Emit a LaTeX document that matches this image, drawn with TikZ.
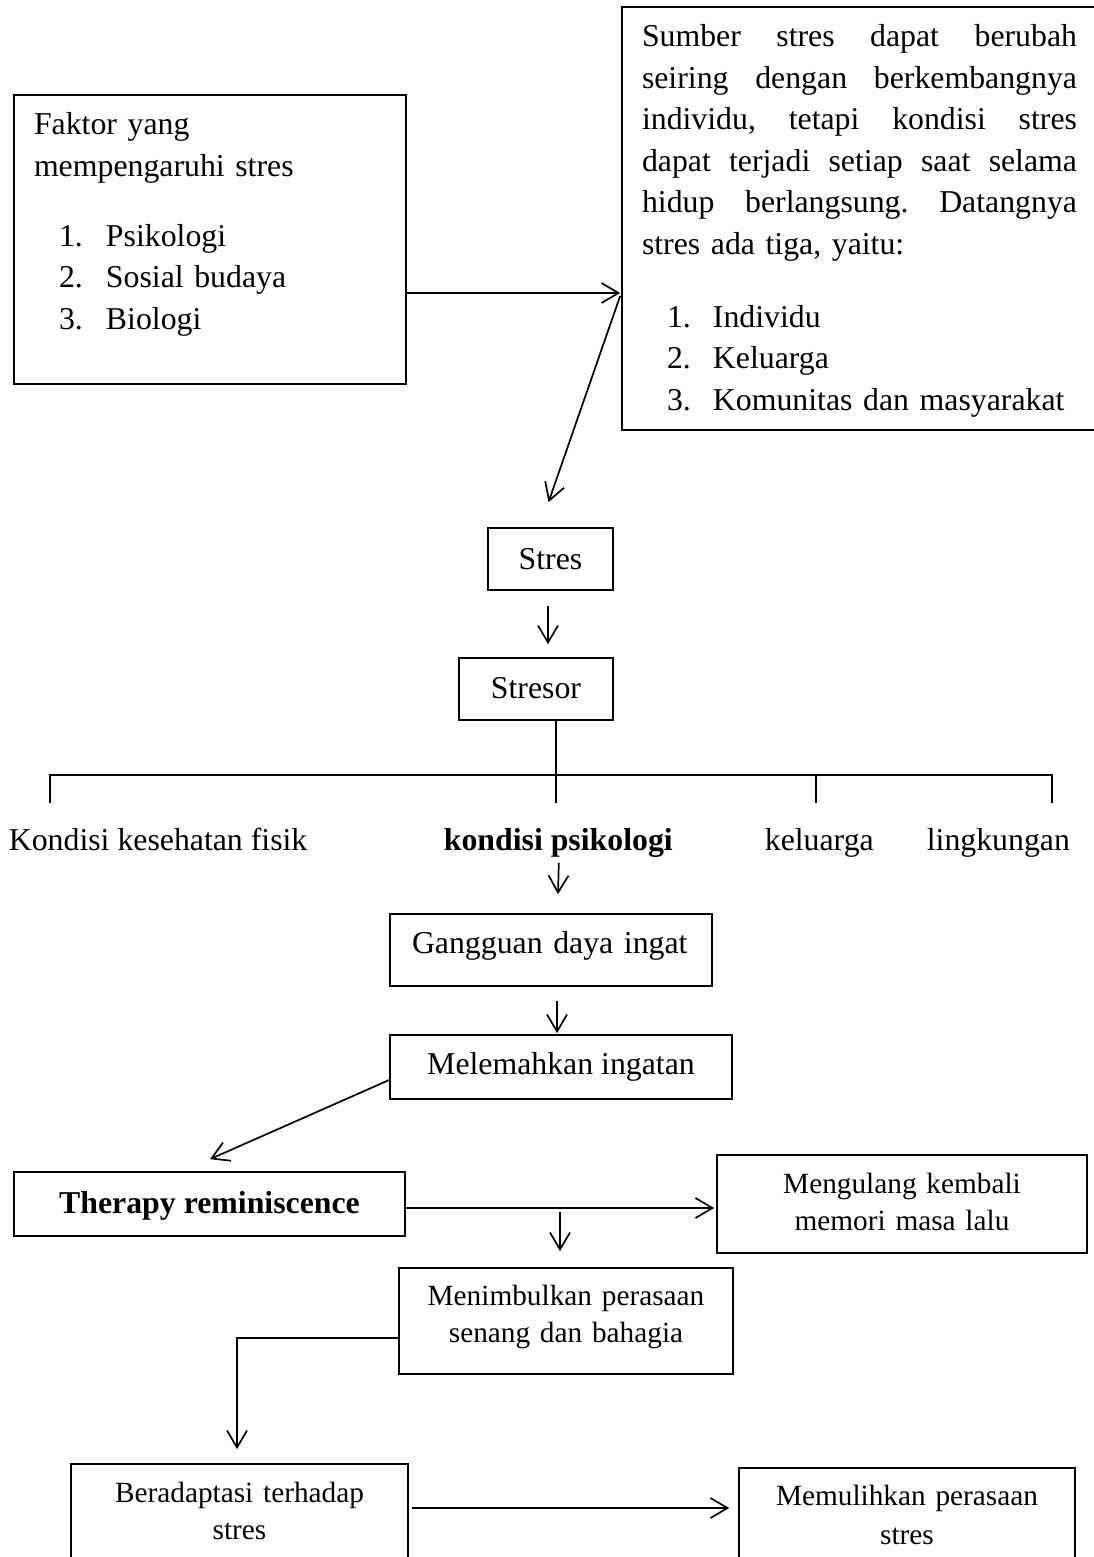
\documentclass[tikz,border=0pt]{standalone}
\usepackage{fontspec}
\setmainfont{Liberation Serif}
\usetikzlibrary{arrows.meta,calc}
\newcommand{\jline}[1]{\leavevmode\hbox to 435pt{#1}}
\begin{document}
\begin{tikzpicture}[x=1pt,y=-1pt,
  line width=1.7pt,
  box/.style={draw,rectangle,inner sep=0pt},
  arr/.style={-{Straight Barb[length=17pt,width=20pt]}},
  big/.style={font=\fontsize{31.8}{41.5}\selectfont},
  bigb/.style={font=\fontsize{31.8}{41.5}\selectfont\bfseries},
  sml/.style={font=\fontsize{29.3}{37.5}\selectfont},
  lbl/.style={inner sep=0pt,anchor=base west}
]
\clip (0,0) rectangle (1094,1557);
\fill[white] (0,0) rectangle (1094,1557);

% boxes
\node[box,big,minimum width=392pt,minimum height=289pt,text width=352pt,align=left,text height=0pt,text depth=209pt] (faktor) at (210,239.5)
{Faktor yang\\
mempengaruhi stres\\[28.5pt]
\hspace*{25pt}\makebox[47pt][l]{1.}Psikologi\\
\hspace*{25pt}\makebox[47pt][l]{2.}Sosial budaya\\
\hspace*{25pt}\makebox[47pt][l]{3.}Biologi};

\node[box,big,minimum width=475pt,minimum height=423pt,text width=435pt,align=left,text height=0pt,text depth=343pt] (sumber) at (859.5,218.5)
{\jline{Sumber\hfill stres\hfill dapat\hfill berubah}\\
\jline{seiring\hfill dengan\hfill berkembangnya}\\
\jline{individu,\hfill tetapi\hfill kondisi\hfill stres}\\
\jline{dapat\hfill terjadi\hfill setiap\hfill saat\hfill selama}\\
\jline{hidup\hfill berlangsung.\hfill Datangnya}\\
stres ada tiga, yaitu:\\[31.5pt]
\hspace*{25pt}\makebox[46pt][l]{1.}Individu\\
\hspace*{25pt}\makebox[46pt][l]{2.}Keluarga\\
\hspace*{25pt}\makebox[46pt][l]{3.}Komunitas dan masyarakat};

\node[box,big,minimum width=125pt,minimum height=62pt,text height=20pt,text depth=0pt] (stres) at (550.5,559) {Stres};
\node[box,big,minimum width=154pt,minimum height=62pt,text height=18pt,text depth=0pt] (stresor) at (536,689) {Stresor};

% stressor categories
\node[lbl,big] (kfis) at (8,850) {Kondisi kesehatan fisik};
\node[lbl,bigb] (kpsi) at (443,850) {kondisi psikologi};
\node[lbl,big] (kkel) at (764,850) {keluarga};
\node[lbl,big] (kling) at (926,850) {lingkungan};

\node[box,big,minimum width=322pt,minimum height=72pt,text height=6pt,text depth=0pt,text width=314pt,align=left] (gangguan) at (551,950) {\hspace*{18pt}Gangguan daya ingat};
\node[box,big,minimum width=342pt,minimum height=64pt,text height=14pt,text depth=0pt] (melemahkan) at (561,1067) {Melemahkan ingatan};
\node[box,bigb,minimum width=391pt,minimum height=64pt,text height=18pt,text depth=0pt] (therapy) at (209.5,1204) {Therapy reminiscence};
\node[box,sml,minimum width=370pt,minimum height=98pt,text width=360pt,align=center,text height=0pt,text depth=22pt] (mengulang) at (902,1204) {Mengulang kembali\\memori masa lalu};
\node[box,sml,minimum width=334pt,minimum height=106pt,text width=330pt,align=center,text height=0pt,text depth=32pt] (menimbulkan) at (566,1321) {Menimbulkan perasaan\\senang dan bahagia};
\node[box,sml,minimum width=337pt,minimum height=136pt,text width=330pt,align=center,text height=0pt,text depth=60pt] (beradaptasi) at (239.5,1532) {Beradaptasi terhadap\\stres};
\node[box,sml,minimum width=336pt,minimum height=132pt,text width=330pt,align=center,text height=0pt,text depth=58pt] (memulihkan) at (907,1534) {Memulihkan perasaan\\[2pt]stres};

% connectors
\draw[arr] ($(faktor.east)+(0,53.5)$) -- ($(sumber.west)+(-1,74.5)$);
\draw[arr] ($(sumber.west)+(-1,77.5)$) -- ($(stres.north)+(-2,-25)$);
\draw[arr] ($(stres.south)+(-2.5,15)$) -- ($(stresor.north)+(12,-13)$);

\coordinate (bL) at (50,775);
\coordinate (bR) at (1052,775);
\coordinate (bK) at (816,775);
\coordinate (tL) at (50,803);
\coordinate (tM) at (556,803);
\coordinate (tK) at (816,803);
\coordinate (tR) at (1052,803);
\draw ($(stresor.south)+(20,0)$) -- (tM);
\draw (tL) -- (bL) -- (bR) -- (tR);
\draw (tK) -- (bK);

\draw[arr] ($(kpsi.south)+(0.5,5)$) -- ($(gangguan.north)+(7,-19)$);
\draw[arr] ($(gangguan.south)+(6,14)$) -- ($(melemahkan.north)+(-4,-1)$);
\draw[arr] ($(melemahkan.west)+(0,13)$) -- ($(therapy.north)+(0.5,-12)$);
\draw[arr] ($(therapy.east)+(0,4)$) -- ($(mengulang.west)+(-2,4)$);
\draw[arr] ($(menimbulkan.north)+(-6,-55)$) -- ($(menimbulkan.north)+(-6,-16)$);
\draw[arr] ($(menimbulkan.west)+(0,17)$) -| ($(beradaptasi.north)+(-2.5,-14)$);
\draw[arr] ($(beradaptasi.east)+(3,-24)$) -- ($(memulihkan.west)+(-9,-26)$);
\end{tikzpicture}
\end{document}
